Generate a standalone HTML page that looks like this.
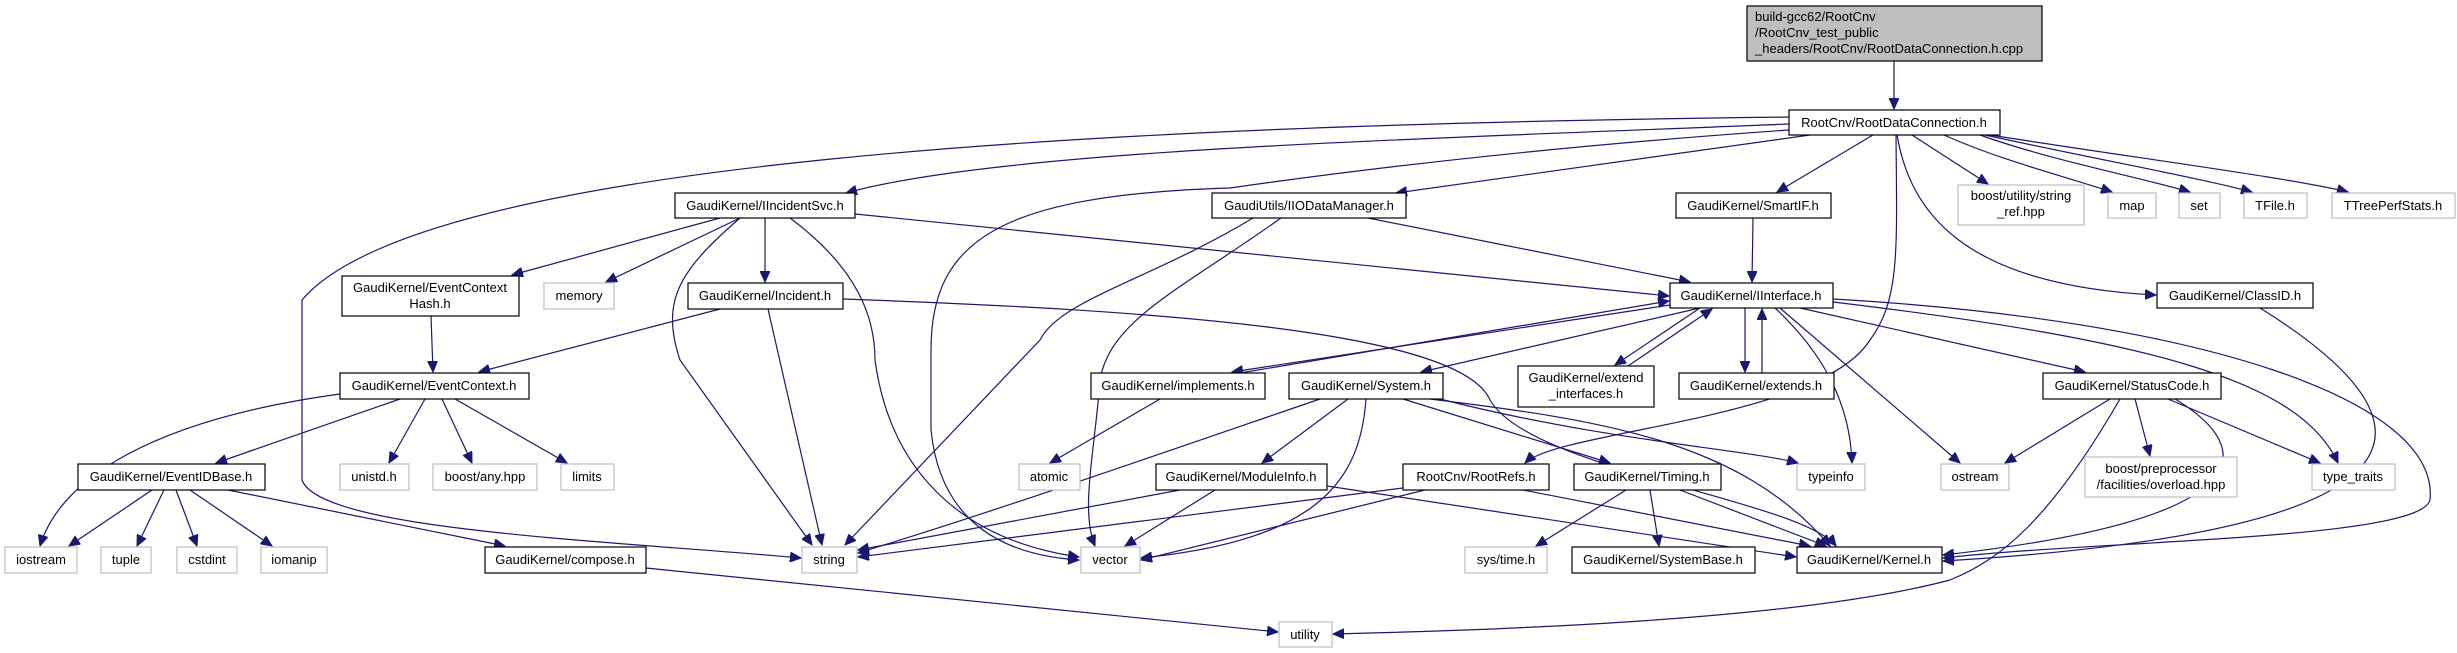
<!DOCTYPE html>
<html><head><meta charset="utf-8"><style>
html,body{margin:0;padding:0;background:#fff;}
svg{display:block}
text{font-family:"Liberation Sans",sans-serif;font-size:13px;fill:#000}
.n{fill:#fff;stroke:#000;stroke-width:1.2}
.g{fill:#fff;stroke:#bfbfbf;stroke-width:1.2}
.e{fill:none;stroke:#191970;stroke-width:1.2;marker-end:url(#a)}
</style></head><body>
<svg width="2457" height="653" viewBox="0 0 2457 653" xmlns="http://www.w3.org/2000/svg">
<defs><marker id="a" markerUnits="userSpaceOnUse" markerWidth="12" markerHeight="10" refX="11" refY="5" orient="auto"><path d="M0,0 L11,5 L0,10 z" fill="#191970" stroke="#191970"/></marker></defs>

<!-- edges -->
<path class="e" d="M1894,61 L1894,109"/>
<path class="e" d="M1789,117 C1100,125 420,160 302,300 L302,480 C320,530 600,540 801,558"/>
<path class="e" d="M1789,124 C1400,140 1000,150 846,193"/>
<path class="e" d="M1789,130 C1500,150 1300,178 1230,188 C1000,195 931,240 931,350 L931,430 C940,520 1000,555 1079,560"/>
<path class="e" d="M1810,135 L1396,193"/>
<path class="e" d="M1873,135 L1777,192"/>
<path class="e" d="M1912,135 L1988,184"/>
<path class="e" d="M1944,135 C2000,160 2060,175 2112,192"/>
<path class="e" d="M1980,135 C2050,160 2130,175 2190,192"/>
<path class="e" d="M1985,135 C2100,160 2200,178 2252,192"/>
<path class="e" d="M1990,135 C2150,160 2290,178 2348,192"/>
<path class="e" d="M1897,135 C1910,210 1960,285 2156,295"/>
<path class="e" d="M1896,135 C1897,250 1900,300 1870,340 C1820,420 1560,430 1525,463"/>

<path class="e" d="M720,218 L512,275"/>
<path class="e" d="M740,218 L606,282"/>
<path class="e" d="M765,218 L765,282"/>
<path class="e" d="M740,218 C680,270 660,300 680,360 L812,545"/>
<path class="e" d="M790,218 C860,270 875,320 875,360 C890,470 960,540 1079,557"/>
<path class="e" d="M855,214 L1669,296"/>

<path class="e" d="M720,309 L479,372"/>
<path class="e" d="M768,309 L822,545"/>
<path class="e" d="M843,299 C1150,310 1460,330 1490,400 C1530,470 1800,500 1836,546"/>
<path class="e" d="M431,316 L433,372"/>
<path class="e" d="M340,394 C150,420 60,480 40,546"/>
<path class="e" d="M400,399 L216,463"/>
<path class="e" d="M425,399 L389,463"/>
<path class="e" d="M442,399 L472,463"/>
<path class="e" d="M455,399 L567,463"/>
<path class="e" d="M152,490 L69,546"/>
<path class="e" d="M164,490 L137,546"/>
<path class="e" d="M176,490 L197,546"/>
<path class="e" d="M190,490 L272,546"/>
<path class="e" d="M228,490 L505,546"/>
<path class="e" d="M646,568 L1278,632"/>

<path class="e" d="M1253,218 C1150,280 1060,300 1040,340 L845,545"/>
<path class="e" d="M1281,218 C1180,290 1110,320 1100,380 C1095,450 1080,510 1095,546"/>
<path class="e" d="M1368,218 L1690,282"/>
<path class="e" d="M1753,218 L1752,282"/>

<path class="e" d="M1670,305 L1232,372"/>
<path class="e" d="M1240,373 L1669,301"/>
<path class="e" d="M1700,308 L1421,372"/>
<path class="e" d="M1700,308 L1615,365"/>
<path class="e" d="M1628,366 L1712,309"/>
<path class="e" d="M1745,308 L1745,372"/>
<path class="e" d="M1762,373 L1762,309"/>
<path class="e" d="M1775,308 C1820,350 1850,400 1852,463"/>
<path class="e" d="M1780,308 L1960,463"/>
<path class="e" d="M1800,308 L2085,372"/>
<path class="e" d="M1833,302 C2150,340 2300,380 2338,463"/>
<path class="e" d="M1833,299 C2200,320 2440,400 2430,500 C2420,540 2100,540 1943,558"/>
<path class="e" d="M1160,399 L1050,463"/>

<path class="e" d="M1348,399 L1262,463"/>
<path class="e" d="M1320,399 C1200,440 1000,510 858,553"/>
<path class="e" d="M1366,399 C1360,480 1320,540 1141,558"/>
<path class="e" d="M1403,399 L1610,463"/>
<path class="e" d="M1440,399 C1600,440 1750,450 1798,463"/>
<path class="e" d="M1430,399 C1600,420 1740,440 1830,546"/>
<path class="e" d="M1180,490 L858,550"/>
<path class="e" d="M1215,490 L1125,546"/>
<path class="e" d="M1327,486 L1796,557"/>
<path class="e" d="M1403,488 L858,557"/>
<path class="e" d="M1425,490 L1141,560"/>
<path class="e" d="M1523,490 L1810,546"/>
<path class="e" d="M1626,490 L1536,546"/>
<path class="e" d="M1650,490 L1659,546"/>
<path class="e" d="M1680,490 L1826,546"/>
<path class="e" d="M2110,399 L2005,463"/>
<path class="e" d="M2135,399 L2150,456"/>
<path class="e" d="M2168,399 L2320,463"/>
<path class="e" d="M2175,399 C2260,450 2260,520 1943,555"/>
<path class="e" d="M2120,399 C2050,520 2000,560 1950,580 C1800,620 1500,630 1333,634"/>
<path class="e" d="M2260,308 C2440,420 2460,530 1943,561"/>

<!-- nodes -->
<rect x="1747" y="6" width="295" height="55" fill="#bfbfbf" stroke="#000" stroke-width="1.2"/>
<text x="1755" y="21">build-gcc62/RootCnv</text>
<text x="1755" y="37">/RootCnv_test_public</text>
<text x="1755" y="53">_headers/RootCnv/RootDataConnection.h.cpp</text>

<g text-anchor="middle">
<rect class="n" x="1789" y="110" width="211" height="25"/><text x="1894" y="127">RootCnv/RootDataConnection.h</text>
<rect class="n" x="675" y="193" width="180" height="25"/><text x="765" y="210">GaudiKernel/IIncidentSvc.h</text>
<rect class="n" x="1212" y="193" width="194" height="25"/><text x="1309" y="210">GaudiUtils/IIODataManager.h</text>
<rect class="n" x="1676" y="193" width="155" height="25"/><text x="1753" y="210">GaudiKernel/SmartIF.h</text>
<rect class="g" x="1958" y="185" width="126" height="40"/><text x="2021" y="200">boost/utility/string</text><text x="2021" y="216">_ref.hpp</text>
<rect class="g" x="2108" y="193" width="48" height="25"/><text x="2132" y="210">map</text>
<rect class="g" x="2179" y="193" width="41" height="25"/><text x="2199" y="210">set</text>
<rect class="g" x="2244" y="193" width="63" height="25"/><text x="2275" y="210">TFile.h</text>
<rect class="g" x="2332" y="193" width="123" height="25"/><text x="2393" y="210">TTreePerfStats.h</text>

<rect class="n" x="342" y="276" width="177" height="40"/><text x="430" y="292">GaudiKernel/EventContext</text><text x="430" y="308">Hash.h</text>
<rect class="g" x="544" y="283" width="70" height="26"/><text x="579" y="300">memory</text>
<rect class="n" x="688" y="283" width="155" height="26"/><text x="765" y="300">GaudiKernel/Incident.h</text>
<rect class="n" x="1670" y="283" width="163" height="25"/><text x="1751" y="300">GaudiKernel/IInterface.h</text>
<rect class="n" x="2157" y="283" width="156" height="25"/><text x="2235" y="300">GaudiKernel/ClassID.h</text>

<rect class="n" x="340" y="373" width="189" height="26"/><text x="434" y="390">GaudiKernel/EventContext.h</text>
<rect class="n" x="1091" y="373" width="174" height="26"/><text x="1178" y="390">GaudiKernel/implements.h</text>
<rect class="n" x="1289" y="373" width="154" height="26"/><text x="1366" y="390">GaudiKernel/System.h</text>
<rect class="n" x="1518" y="366" width="136" height="41"/><text x="1586" y="382">GaudiKernel/extend</text><text x="1586" y="398">_interfaces.h</text>
<rect class="n" x="1679" y="373" width="155" height="26"/><text x="1756" y="390">GaudiKernel/extends.h</text>
<rect class="n" x="2043" y="373" width="178" height="26"/><text x="2132" y="390">GaudiKernel/StatusCode.h</text>

<rect class="n" x="78" y="464" width="187" height="26"/><text x="171" y="481">GaudiKernel/EventIDBase.h</text>
<rect class="g" x="340" y="464" width="69" height="26"/><text x="374" y="481">unistd.h</text>
<rect class="g" x="433" y="464" width="104" height="26"/><text x="485" y="481">boost/any.hpp</text>
<rect class="g" x="561" y="464" width="53" height="26"/><text x="587" y="481">limits</text>
<rect class="g" x="1019" y="464" width="61" height="26"/><text x="1049" y="481">atomic</text>
<rect class="n" x="1156" y="464" width="171" height="26"/><text x="1241" y="481">GaudiKernel/ModuleInfo.h</text>
<rect class="n" x="1403" y="464" width="146" height="26"/><text x="1476" y="481">RootCnv/RootRefs.h</text>
<rect class="n" x="1574" y="464" width="147" height="26"/><text x="1647" y="481">GaudiKernel/Timing.h</text>
<rect class="g" x="1797" y="464" width="68" height="26"/><text x="1831" y="481">typeinfo</text>
<rect class="g" x="1941" y="464" width="68" height="26"/><text x="1975" y="481">ostream</text>
<rect class="g" x="2085" y="457" width="152" height="40"/><text x="2161" y="473">boost/preprocessor</text><text x="2161" y="489">/facilities/overload.hpp</text>
<rect class="g" x="2312" y="464" width="83" height="26"/><text x="2353" y="481">type_traits</text>

<rect class="g" x="5" y="547" width="72" height="26"/><text x="41" y="564">iostream</text>
<rect class="g" x="101" y="547" width="50" height="26"/><text x="126" y="564">tuple</text>
<rect class="g" x="177" y="547" width="60" height="26"/><text x="207" y="564">cstdint</text>
<rect class="g" x="261" y="547" width="66" height="26"/><text x="294" y="564">iomanip</text>
<rect class="n" x="485" y="547" width="161" height="26"/><text x="565" y="564">GaudiKernel/compose.h</text>
<rect class="g" x="802" y="547" width="55" height="26"/><text x="829" y="564">string</text>
<rect class="g" x="1081" y="547" width="59" height="26"/><text x="1110" y="564">vector</text>
<rect class="g" x="1465" y="547" width="82" height="26"/><text x="1506" y="564">sys/time.h</text>
<rect class="n" x="1572" y="547" width="183" height="26"/><text x="1663" y="564">GaudiKernel/SystemBase.h</text>
<rect class="n" x="1797" y="547" width="145" height="26"/><text x="1869" y="564">GaudiKernel/Kernel.h</text>
<rect class="g" x="1279" y="622" width="53" height="25"/><text x="1305" y="639">utility</text>
</g>
</svg>
</body></html>
